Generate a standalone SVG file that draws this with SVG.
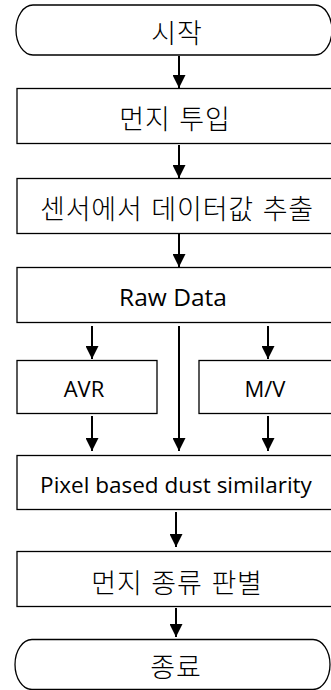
<svg xmlns="http://www.w3.org/2000/svg" width="331" height="690" viewBox="0 0 331 690">
<style>
.shape{fill:#fff;stroke:#000;stroke-width:1.3}
.ko{font-family:"Noto Sans CJK KR","Noto Sans",sans-serif;font-size:27px;font-weight:300;letter-spacing:0.8px;word-spacing:2px;fill:#000;text-anchor:middle}
.en{font-family:"Open Sans","Noto Sans",sans-serif;fill:#000;text-anchor:middle}
.conn line{stroke:#000;stroke-width:2}
</style>
<defs>
<marker id="ah" markerUnits="userSpaceOnUse" markerWidth="13" markerHeight="13" refX="13" refY="6.5" orient="auto">
<path d="M0,0 L13,6.5 L0,13 Z" fill="#000"/>
</marker>
</defs>
<g id="start">
<path class="shape" d="M33,5 H315 A17,25 0 0 1 315,55 H33 A17,25 0 0 1 33,5 Z"/>
<text class="ko" x="177" y="43">시작</text>
</g>
<g id="dust-input">
<rect class="shape" x="17" y="88.5" width="324" height="55"/>
<text class="ko" x="175" y="129">먼지 투입</text>
</g>
<g id="extract">
<rect class="shape" x="17" y="178.5" width="324" height="55"/>
<text class="ko" x="177" y="219">센서에서 데이터값 추출</text>
</g>
<g id="raw-data">
<rect class="shape" x="17" y="267.5" width="324" height="55"/>
<text class="en" x="173" y="306" font-size="24.5">Raw Data</text>
</g>
<g id="avr">
<rect class="shape" x="17" y="360.5" width="140" height="53"/>
<text class="en" x="84" y="397" font-size="22">AVR</text>
</g>
<g id="mv">
<rect class="shape" x="199" y="360.5" width="142" height="53"/>
<text class="en" x="265" y="397" font-size="22">M/V</text>
</g>
<g id="pixel">
<rect class="shape" x="17" y="455.5" width="324" height="54"/>
<text class="en" x="176" y="493" font-size="22.5">Pixel based dust similarity</text>
</g>
<g id="classify">
<rect class="shape" x="17" y="551.5" width="324" height="55"/>
<text class="ko" x="177" y="593">먼지 종류 판별</text>
</g>
<g id="end">
<path class="shape" d="M32,639.5 H313 A17,25 0 0 1 313,689.5 H32 A17,25 0 0 1 32,639.5 Z"/>
<text class="ko" x="176" y="677">종료</text>
</g>
<g class="conn" id="connectors">
<line x1="179" y1="56" x2="179" y2="88" marker-end="url(#ah)"/>
<line x1="179" y1="145" x2="179" y2="178" marker-end="url(#ah)"/>
<line x1="179" y1="234" x2="179" y2="267" marker-end="url(#ah)"/>
<line x1="92" y1="326" x2="92" y2="359" marker-end="url(#ah)"/>
<line x1="268" y1="326" x2="268" y2="359" marker-end="url(#ah)"/>
<line x1="179" y1="326" x2="179" y2="451" marker-end="url(#ah)"/>
<line x1="92" y1="416" x2="92" y2="451" marker-end="url(#ah)"/>
<line x1="268" y1="416" x2="268" y2="451" marker-end="url(#ah)"/>
<line x1="176" y1="512" x2="176" y2="547" marker-end="url(#ah)"/>
<line x1="176" y1="608" x2="176" y2="637" marker-end="url(#ah)"/>
</g>
</svg>
